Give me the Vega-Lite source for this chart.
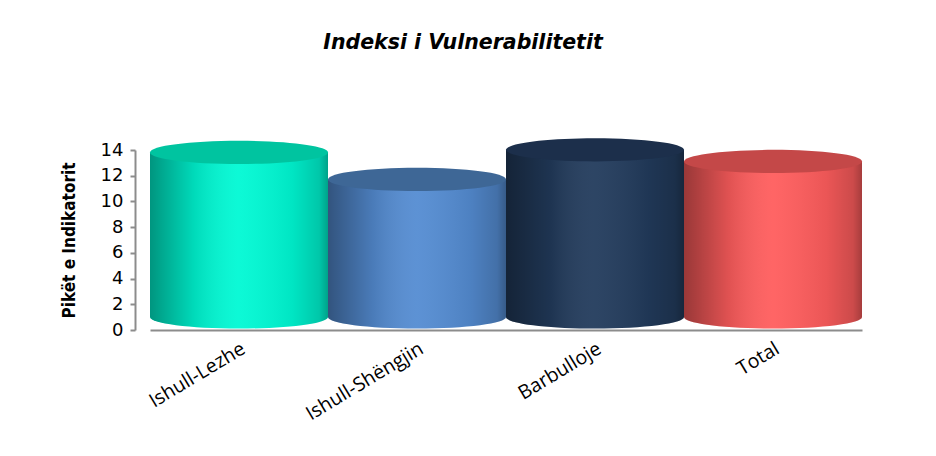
{
  "$schema": "https://vega.github.io/schema/vega-lite/v6.json",
  "autosize": "none",
  "width": 712,
  "height": 180,
  "padding": {"left": 150, "top": 150, "right": 74, "bottom": 126},
  "background": "white",
  "config": {"view": {"stroke": null}},
  "title": {
    "text": "Indeksi i Vulnerabilitetit",
    "font": "DejaVu Sans",
    "fontSize": 20.5,
    "fontWeight": 600,
    "fontStyle": "italic",
    "color": "#000000",
    "anchor": "middle",
    "dx": -43,
    "offset": 85
  },
  "data": {
    "values": [
      {"zona": "Ishull-Lezhe", "pike": 12.8},
      {"zona": "Ishull-Shëngjin", "pike": 10.7},
      {"zona": "Barbulloje", "pike": 13.0},
      {"zona": "Total", "pike": 12.1}
    ]
  },
  "encoding": {
    "x": {
      "field": "zona",
      "type": "nominal",
      "sort": null,
      "scale": {"paddingInner": 0, "paddingOuter": 0},
      "axis": {
        "title": null,
        "labelAngle": -31,
        "labelAlign": "right",
        "labelBaseline": "top",
        "labelFont": "Open Sans",
        "labelFontSize": 19.5,
        "labelColor": "#000000",
        "labelPadding": 9,
        "ticks": false,
        "domainColor": "#8c8c8c",
        "domainWidth": 2
      }
    },
    "y": {
      "field": "pike",
      "type": "quantitative",
      "scale": {"domain": [0, 14]},
      "axis": {
        "title": "Pikët e Indikatorit",
        "titleFont": "DejaVu Sans Condensed",
        "titleFontSize": 17,
        "titleFontWeight": "bold",
        "titleColor": "#000000",
        "titlePadding": 22,
        "values": [0, 2, 4, 6, 8, 10, 12, 14],
        "labelFont": "DejaVu Sans",
        "labelFontSize": 18,
        "labelColor": "#000000",
        "labelPadding": 7,
        "tickColor": "#8c8c8c",
        "tickSize": 5,
        "tickWidth": 2,
        "domainColor": "#8c8c8c",
        "domainWidth": 2,
        "grid": false,
        "offset": 15
      }
    }
  },
  "layer": [
    {
      "mark": {"type": "bar", "yOffset": -13},
      "encoding": {
        "color": {
          "field": "zona",
          "type": "nominal",
          "sort": null,
          "legend": null,
          "scale": {
            "domain": ["Ishull-Lezhe", "Ishull-Shëngjin", "Barbulloje", "Total"],
            "range": ["#00F9D4", "#548CD2", "#223B5C", "#FF5D5D"]
          }
        }
      }
    },
    {
      "mark": {"type": "point", "filled": true, "opacity": 1, "yOffset": -13,
        "shape": "M -1 0 A 1 0.13 0 0 0 1 0 Z", "size": 31684},
      "encoding": {
        "y": {"datum": 0, "type": "quantitative"},
        "color": {
          "field": "zona",
          "type": "nominal",
          "sort": null,
          "legend": null,
          "scale": {
            "domain": ["Ishull-Lezhe", "Ishull-Shëngjin", "Barbulloje", "Total"],
            "range": ["#00F9D4", "#548CD2", "#223B5C", "#FF5D5D"]
          }
        }
      }
    },
    {
      "mark": {"type": "bar", "yOffset": -13,
        "fill": {"gradient": "linear", "x1": 0, "y1": 0, "x2": 1, "y2": 0,
          "stops": [
            {"offset": 0, "color": "rgba(0,0,0,0.4)"},
            {"offset": 0.25, "color": "rgba(0,0,0,0.12)"},
            {"offset": 0.5, "color": "rgba(255,255,255,0.05)"},
            {"offset": 0.8, "color": "rgba(0,0,0,0.08)"},
            {"offset": 0.95, "color": "rgba(0,0,0,0.2)"},
            {"offset": 1, "color": "rgba(0,0,0,0.35)"}
          ]}}
    },
    {
      "mark": {"type": "point", "filled": true, "opacity": 1, "yOffset": -13,
        "shape": "M -1 0 A 1 0.13 0 0 0 1 0 Z", "size": 31684,
        "fill": {"gradient": "linear", "x1": 0, "y1": 0, "x2": 1, "y2": 0,
          "stops": [
            {"offset": 0, "color": "rgba(0,0,0,0.4)"},
            {"offset": 0.25, "color": "rgba(0,0,0,0.12)"},
            {"offset": 0.5, "color": "rgba(255,255,255,0.05)"},
            {"offset": 0.8, "color": "rgba(0,0,0,0.08)"},
            {"offset": 0.95, "color": "rgba(0,0,0,0.2)"},
            {"offset": 1, "color": "rgba(0,0,0,0.35)"}
          ]}},
      "encoding": {"y": {"datum": 0, "type": "quantitative"}}
    },
    {
      "mark": {"type": "point", "filled": true, "opacity": 1, "yOffset": -13,
        "shape": "M -1 0 A 1 0.13 0 1 0 1 0 A 1 0.13 0 1 0 -1 0 Z", "size": 31684},
      "encoding": {
        "fill": {
          "field": "zona",
          "type": "nominal",
          "sort": null,
          "legend": null,
          "scale": {
            "domain": ["Ishull-Lezhe", "Ishull-Shëngjin", "Barbulloje", "Total"],
            "range": ["#00C4A0", "#3E6796", "#1C2F4B", "#C44848"]
          }
        }
      }
    }
  ],
  "resolve": {"scale": {"fill": "independent"}}
}
